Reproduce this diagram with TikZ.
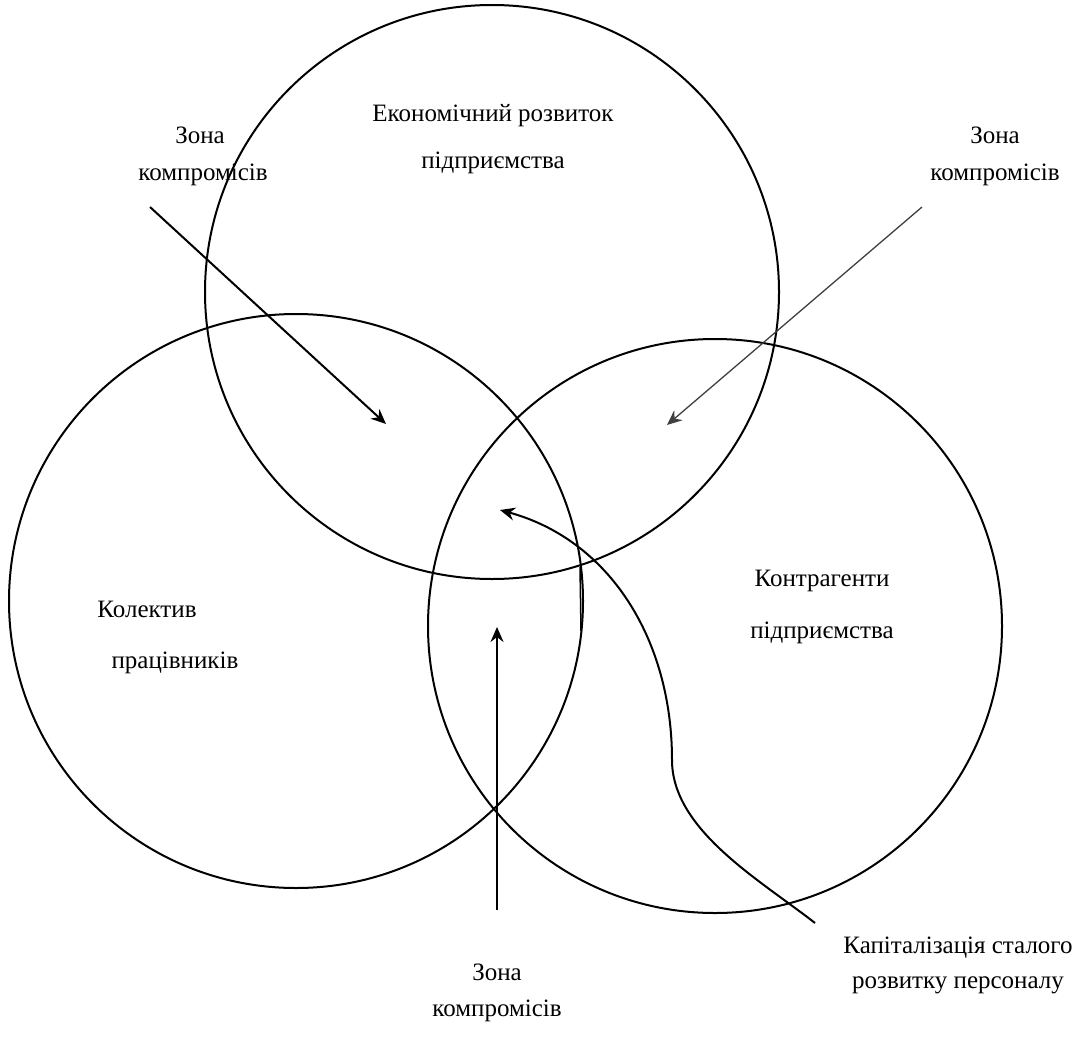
\documentclass[tikz,border=0pt]{standalone}
\usepackage{fontspec}
\setmainfont{Liberation Serif}
\usetikzlibrary{arrows.meta}
\tikzstyle{diagram} = [x = 1pt, y = -1pt]
\tikzstyle{circleStyle} = [line width = 2pt]
\tikzstyle{arrowStyle} = [line width = 2pt, -{Stealth[length = 15pt, width = 13pt, inset = 5pt]}]
\tikzstyle{thinArrowStyle} = [line width = 1.3pt, color = black!75, -{Stealth[length = 15pt, width = 13pt, inset = 5pt]}]
\tikzstyle{labelText} = [font = \fontsize{25}{30}\selectfont, inner sep = 0pt, text height = 1.55ex, text depth = .25ex]
\newcommand{\radius}{287}

\begin{document}
\begin{tikzpicture}[diagram]
  \useasboundingbox (0,0) rectangle (1089,1049);

  % three circles
  \draw [circleStyle] (492,292) circle (\radius);
  \draw [circleStyle] (296,601) circle (\radius);
  \draw [circleStyle] (715,626) circle (\radius);
  \draw [line width = 1.5pt] (580,567) -- (581,631);

  % labels
  \node [labelText] (economyTop) at (493,119) {Економічний розвиток};
  \node [labelText] (economyBottom) at (493,166) {підприємства};
  \node [labelText] (staffTop) at (147,615) {Колектив};
  \node [labelText] (staffBottom) at (175,666) {працівників};
  \node [labelText] (partnersTop) at (822,584) {Контрагенти};
  \node [labelText] (partnersBottom) at (822,636) {підприємства};

  \node [labelText] (zoneLeftTop) at (200,141) {Зона};
  \node [labelText] (zoneLeftBottom) at (203,178) {компромісів};
  \node [labelText] (zoneRightTop) at (995,141) {Зона};
  \node [labelText] (zoneRightBottom) at (995,178) {компромісів};
  \node [labelText] (zoneLowTop) at (497,978) {Зона};
  \node [labelText] (zoneLowBottom) at (497,1014) {компромісів};
  \node [labelText] (capitalTop) at (958,951) {Капіталізація сталого};
  \node [labelText] (capitalBottom) at (958,986) {розвитку персоналу};

  % arrows
  \coordinate (leftStart) at (150,207);
  \coordinate (leftEnd) at (386,424);
  \coordinate (rightStart) at (922,207);
  \coordinate (rightEnd) at (667,425);
  \coordinate (lowStart) at (497,910);
  \coordinate (lowEnd) at (497,627);
  \coordinate (curveStart) at (815,923);
  \coordinate (curveMid) at (672,760);
  \coordinate (curveEnd) at (500,510);

  \draw [arrowStyle] (leftStart) -- (leftEnd);
  \draw [thinArrowStyle] (rightStart) -- (rightEnd);
  \draw [arrowStyle] (lowStart) -- (lowEnd);
  \draw [arrowStyle] (curveStart) .. controls (760,880) and (672,830) .. (curveMid)
    .. controls (672,640) and (610,540) .. (curveEnd);
\end{tikzpicture}
\end{document}
